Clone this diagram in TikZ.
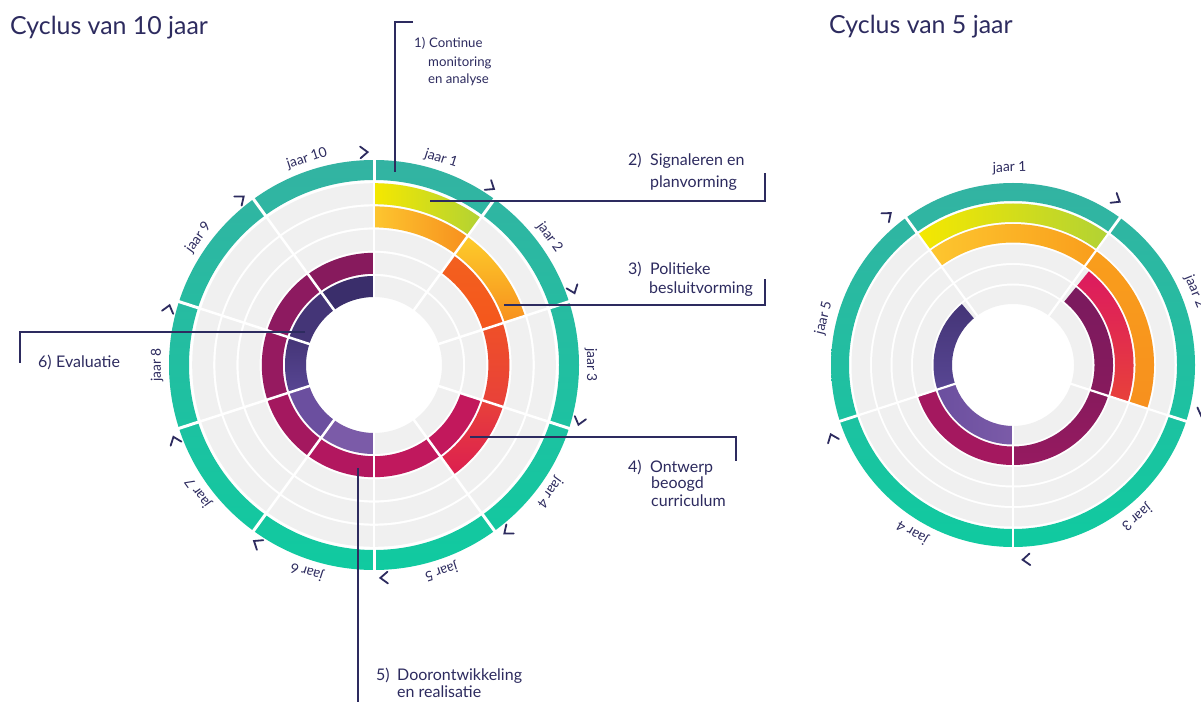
\documentclass[tikz,border=0pt]{standalone}
\usepackage{fontspec}
\setmainfont{Lato}
\usetikzlibrary{calc}
\definecolor{navy}{HTML}{2D2B5F}
\definecolor{ringgray}{HTML}{F0F0F0}
\definecolor{tealT}{HTML}{33B3A2}
\definecolor{tealB}{HTML}{10CAA0}
\definecolor{yelA}{HTML}{F5E800}
\definecolor{yelB}{HTML}{B2D234}
\definecolor{orA}{HTML}{FDC62F}
\definecolor{orB}{HTML}{F7901E}
\definecolor{orC}{HTML}{F99E1C}
\definecolor{redA}{HTML}{F3601F}
\definecolor{redB}{HTML}{EF5028}
\definecolor{redC}{HTML}{E8413A}
\definecolor{redD}{HTML}{DC1F50}
\definecolor{pinkR}{HTML}{DC1A5F}
\definecolor{mg4}{HTML}{C2185C}
\definecolor{mg5}{HTML}{C0185D}
\definecolor{mg6}{HTML}{B2175F}
\definecolor{mg7}{HTML}{A4185F}
\definecolor{mg8}{HTML}{961A60}
\definecolor{mg9}{HTML}{8D1A60}
\definecolor{mg10}{HTML}{871A5D}
\definecolor{mrA}{HTML}{7A1A5E}
\definecolor{pu6}{HTML}{7B5BA8}
\definecolor{pu7}{HTML}{6B4F9F}
\definecolor{pu8}{HTML}{584693}
\definecolor{pu9}{HTML}{443577}
\definecolor{pu10}{HTML}{3A2E6B}
% annular sector: #1 centre, #2 r in, #3 r out, #4 start angle, #5 end angle, #6 style
\newcommand\annsec[6]{%
  \path[#6] ([shift={(#4:#3pt)}]#1) arc[start angle=#4, end angle=#5, radius=#3pt]
    -- ([shift={(#5:#2pt)}]#1) arc[start angle=#5, end angle=#4, radius=#2pt] -- cycle;}
% chevron: #1 centre, #2 angle, #3 radius
\newcommand\chevron[3]{%
  \begin{scope}[shift={(#1)}, rotate=#2]
    \draw[chevst] (#3-5.8, 4) -- (#3, -3.3) -- (#3+5.8, 4);
  \end{scope}}
\tikzset{
  chevst/.style={navy, line width=1.8pt, line cap=round, line join=miter},
  leader/.style={navy, line width=1.6pt},
  lab/.style={navy, anchor=base west, inner sep=0pt, font=\fontsize{16}{19}\selectfont},
  labsmall/.style={navy, anchor=base west, inner sep=0pt, font=\fontsize{13.2}{16}\selectfont},
  ttl/.style={navy, anchor=base west, inner sep=0pt, font=\fontsize{24.9}{30}\selectfont},
  yr/.style={navy, inner sep=0pt, font=\fontsize{13.8}{16}\selectfont},
  gap/.style={white, line width=2.5pt},
}
\begin{document}
\begin{tikzpicture}[x=1pt, y=1pt]
\useasboundingbox (0,0) rectangle (1201,702);
\fill[white] (0,0) rectangle (1201,702);
\coordinate (L) at (374,337);
\coordinate (R) at (1013,337);

% ================= LEFT: 10 year cycle =================
\foreach \i in {0,...,4}{
  \pgfmathsetmacro\ri{68+23.2*\i}\pgfmathsetmacro\ro{\ri+21}
  \annsec{L}{\ri}{\ro}{90}{-270}{fill=ringgray}
}
\annsec{L}{185}{205}{90}{-270}{top color=tealT, bottom color=tealB}
% band 4 (outer)
\annsec{L}{160.8}{181.8}{90}{54}{left color=yelA, right color=yelB}
% band 3
\annsec{L}{137.6}{158.6}{90}{54}{left color=orA, right color=orB}
\annsec{L}{137.6}{158.6}{54}{18}{top color=orA!90!yellow, bottom color=orB}
% band 2
\annsec{L}{114.4}{135.4}{54}{18}{top color=redA, bottom color=redA!90!red}
\annsec{L}{114.4}{135.4}{18}{-18}{top color=redB, bottom color=redC}
\annsec{L}{114.4}{135.4}{-18}{-54}{top color=redC, bottom color=redD}
% band 1
\annsec{L}{91.2}{112.2}{-18}{-54}{fill=mg4}
\annsec{L}{91.2}{112.2}{-54}{-90}{fill=mg5}
\annsec{L}{91.2}{112.2}{-90}{-126}{fill=mg6}
\annsec{L}{91.2}{112.2}{-126}{-162}{fill=mg7}
\annsec{L}{91.2}{112.2}{198}{162}{fill=mg8}
\annsec{L}{91.2}{112.2}{162}{126}{fill=mg9}
\annsec{L}{91.2}{112.2}{126}{90}{fill=mg10}
% band 0
\annsec{L}{68}{89}{-90}{-126}{fill=pu6}
\annsec{L}{68}{89}{-126}{-162}{fill=pu7}
\annsec{L}{68}{89}{198}{162}{top color=pu9, bottom color=pu8}
\annsec{L}{68}{89}{162}{126}{fill=pu9}
\annsec{L}{68}{89}{126}{90}{fill=pu10}
% radial white gaps
\foreach \a in {90,54,18,-18,-54,-90,-126,-162,162,126}{
  \draw[gap] ([shift={(\a:66pt)}]L) -- ([shift={(\a:184pt)}]L);
  \draw[white, line width=3pt] ([shift={(\a:183pt)}]L) -- ([shift={(\a:207pt)}]L);
}
% chevrons
\foreach \a in {90,54,18,-18,-54,-90,-126,-162,162,126}{
  \chevron{L}{\a+2.6}{213}
}
% year labels
\foreach \k in {1,...,10}{
  \pgfmathsetmacro\m{72-36*(\k-1)}
  \node[yr, rotate=\m-90] (jl\k) at ([shift={(\m:217pt)}]L) {jaar \k};
}

% ================= RIGHT: 5 year cycle =================
\foreach \i in {0,...,4}{
  \pgfmathsetmacro\ri{61+20.5*\i}\pgfmathsetmacro\ro{\ri+18.5}
  \annsec{R}{\ri}{\ro}{90}{-270}{fill=ringgray}
}
\annsec{R}{164}{182}{90}{-270}{top color=tealT, bottom color=tealB}
% band 4
\annsec{R}{143}{161.5}{126}{54}{left color=yelA, right color=yelB}
% band 3
\annsec{R}{122.5}{141}{126}{54}{left color=orA, right color=orC}
\annsec{R}{122.5}{141}{54}{-18}{top color=orC, bottom color=orB}
% band 2
\annsec{R}{102}{120.5}{51}{-18}{top color=pinkR, bottom color=redC}
% band 1
\annsec{R}{81.5}{100}{51}{-18}{top color=mrA, bottom color=mg10}
\annsec{R}{81.5}{100}{-18}{-90}{top color=mg10, bottom color=mg8}
\annsec{R}{81.5}{100}{-90}{-162}{fill=mg7}
% band 0
\annsec{R}{61}{79.5}{-90}{-162}{left color=pu7, right color=pu6}
\annsec{R}{61}{79.5}{198}{130}{top color=pu9, bottom color=pu8}
\foreach \a in {126,54,-18,-90,-162}{
  \draw[white, line width=2.2pt] ([shift={(\a:59pt)}]R) -- ([shift={(\a:162.5pt)}]R);
  \draw[white, line width=2.8pt] ([shift={(\a:162pt)}]R) -- ([shift={(\a:184pt)}]R);
}
\foreach \a in {126,54,-18,-90,-162}{
  \chevron{R}{\a+3.8}{195}
}
\node[yr, rotate=1] (jr1) at ([shift={(91:197pt)}]R) {jaar 1};
\node[yr, rotate=-68] (jr2) at ([shift={(22:196pt)}]R) {jaar 2};
\node[yr, rotate=-141] (jr3) at ([shift={(-51:196pt)}]R) {jaar 3};
\node[yr, rotate=-211] (jr4) at ([shift={(-121:195pt)}]R) {jaar 4};
\node[yr, rotate=76] (jr5) at ([shift={(166:195pt)}]R) {jaar 5};

% ================= titles =================
\node[ttl] (title1) at (10,667) {Cyclus van 10 jaar};
\node[ttl] (title2) at (829,668) {Cyclus van 5 jaar};

% ================= callouts =================
\coordinate (p1a) at (413,680); \coordinate (p1b) at (395,680); \coordinate (p1c) at (395,530);
\coordinate (p2a) at (430,501); \coordinate (p2b) at (765,501); \coordinate (p2c) at (765,529);
\coordinate (p3a) at (504,397); \coordinate (p3b) at (765,397); \coordinate (p3c) at (765,423);
\coordinate (p4a) at (470,265); \coordinate (p4b) at (736,265); \coordinate (p4c) at (736,241);
\coordinate (p5a) at (358,234); \coordinate (p5b) at (358,0);
\coordinate (p6a) at (305,370); \coordinate (p6b) at (20,370); \coordinate (p6c) at (20,339);
\draw[leader] (p1a) -- (p1b) -- (p1c);
\draw[leader] (p2a) -- (p2b) -- (p2c);
\draw[leader] (p3a) -- (p3b) -- (p3c);
\draw[leader] (p4a) -- (p4b) -- (p4c);
\draw[leader] (p5a) -- (p5b);
\draw[leader] (p6a) -- (p6b) -- (p6c);

\node[labsmall] (n1) at (414,654) {1)};
\node[labsmall] (t1a) at (429,654) {Continue};
\node[labsmall] (t1b) at (428,635.5) {monitoring};
\node[labsmall] (t1c) at (428,618) {en analyse};

\node[lab] (n2) at (628,536) {2)};
\node[lab] (t2a) at (650,536) {Signaleren en};
\node[lab] (t2b) at (650,514) {planvorming};

\node[lab] (n3) at (628,427) {3)};
\node[lab] (t3a) at (650,427) {Politieke};
\node[lab] (t3b) at (649,408) {besluitvorming};

\node[lab] (n4) at (628,230) {4)};
\node[lab] (t4a) at (650,230) {Ontwerp};
\node[lab] (t4b) at (651,214) {beoogd};
\node[lab] (t4c) at (651,196) {curriculum};

\node[lab] (n5) at (376,22) {5)};
\node[lab] (t5a) at (397,22) {Doorontwikkeling};
\node[lab] (t5b) at (397,5) {en realisatie};

\node[lab] (n6) at (38,334) {6)};
\node[lab] (t6a) at (56,334) {Evaluatie};
\end{tikzpicture}
\end{document}
